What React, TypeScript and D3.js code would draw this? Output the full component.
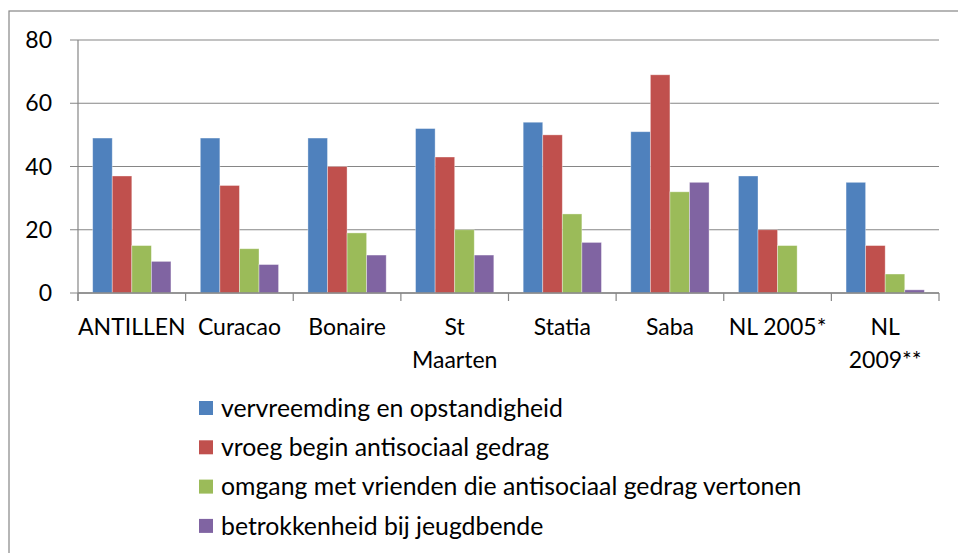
import React from 'react';
import * as d3 from 'd3';

const categories = ['ANTILLEN', 'Curacao', 'Bonaire', 'St Maarten', 'Statia', 'Saba', 'NL 2005*', 'NL 2009**'];
// label lines as they wrap in the picture
const categoryLines = [['ANTILLEN'], ['Curacao'], ['Bonaire'], ['St', 'Maarten'], ['Statia'], ['Saba'], ['NL 2005*'], ['NL', '2009**']];

const seriesNames = [
  'vervreemding en opstandigheid',
  'vroeg begin antisociaal gedrag',
  'omgang met vrienden die antisociaal gedrag vertonen',
  'betrokkenheid bij jeugdbende',
];
const vervreemding = [49, 49, 49, 52, 54, 51, 37, 35];
const vroegBegin = [37, 34, 40, 43, 50, 69, 20, 15];
const omgang = [15, 14, 19, 20, 25, 32, 15, 6];
const jeugdbende = [10, 9, 12, 12, 16, 35, 0, 1];
const seriesValues = [vervreemding, vroegBegin, omgang, jeugdbende];
const seriesColors = ['#4F81BD', '#C0504D', '#9BBB59', '#8064A2'];
const yTicks = [0, 20, 40, 60, 80];

const W = 958;
const H = 553;
const margin = { top: 40, right: 19, left: 78, bottom: 260 };
const FONT = 'Lato, "Noto Sans", sans-serif';
const AXIS = '#868686';

export default function App() {
  const x = d3.scaleBand<string>()
    .domain(categories)
    .range([margin.left, W - margin.right])
    .paddingInner(0)
    .paddingOuter(0);

  const y = d3.scaleLinear()
    .domain([0, 80])
    .range([H - margin.bottom, margin.top]);

  // Excel gap width 150%: 4 bars + 1.5 bar of gap per category
  const barW = x.bandwidth() / 5.5;
  const x1 = d3.scaleBand<number>()
    .domain([0, 1, 2, 3])
    .range([0, barW * 4]);

  const y0 = y(0);

  return (
    <div style={{ position: 'fixed', left: 0, top: 0 }}>
      <svg width={W} height={H} style={{ display: 'block', background: '#fff' }} fontFamily={FONT}>
        {/* chart border */}
        <rect x={9} y={11} width={W + 20} height={H + 20} fill="none" stroke={AXIS} strokeWidth={1.2} />

        {/* gridlines + y ticks */}
        {yTicks.map(t => (
          <g key={t}>
            <line x1={margin.left - 8} x2={W - margin.right} y1={y(t)} y2={y(t)} stroke={AXIS} strokeWidth={1.2} />
            <text x={52} y={y(t)} dy="0.35em" textAnchor="end" fontSize={23} fill="#000">{t}</text>
          </g>
        ))}

        {/* bars */}
        {categories.map((c, ci) => (
          <g key={c} transform={`translate(${x(c)! + barW * 0.75},0)`}>
            {seriesValues.map((vals, si) => vals[ci] > 0 && (
              <rect
                key={si}
                x={x1(si)}
                y={y(vals[ci])}
                width={x1.bandwidth()}
                height={y0 - y(vals[ci])}
                fill={seriesColors[si]}
                stroke="#ffffff"
                strokeOpacity={0.45}
                strokeWidth={0.8}
              />
            ))}
          </g>
        ))}

        {/* y axis */}
        <line x1={margin.left} x2={margin.left} y1={margin.top} y2={y0 + 8} stroke={AXIS} strokeWidth={1.2} />
        {/* x axis + category ticks */}
        <line x1={margin.left} x2={W - margin.right} y1={y0} y2={y0} stroke={AXIS} strokeWidth={1.5} />
        {[...categories.map(c => x(c)!), W - margin.right].map((px, i) => (
          <line key={i} x1={px} x2={px} y1={y0} y2={y0 + 8} stroke={AXIS} strokeWidth={1.2} />
        ))}

        {/* category labels */}
        {categories.map((c, ci) => (
          <text key={c} x={x(c)! + x.bandwidth() / 2} y={327} textAnchor="middle" fontSize={23} fill="#000">
            {categoryLines[ci].map((line, li) => (
              <tspan key={li} x={x(c)! + x.bandwidth() / 2} y={327 + li * 33} dy="0.35em">{line}</tspan>
            ))}
          </text>
        ))}

        {/* legend */}
        {seriesNames.map((name, si) => {
          const cy = 408 + si * 39.3;
          return (
            <g key={name}>
              <rect x={199} y={cy - 7} width={14} height={14} fill={seriesColors[si]} />
              <text x={221} y={cy} dy="0.35em" fontSize={24.8} fill="#000">{name}</text>
            </g>
          );
        })}
      </svg>
    </div>
  );
}
